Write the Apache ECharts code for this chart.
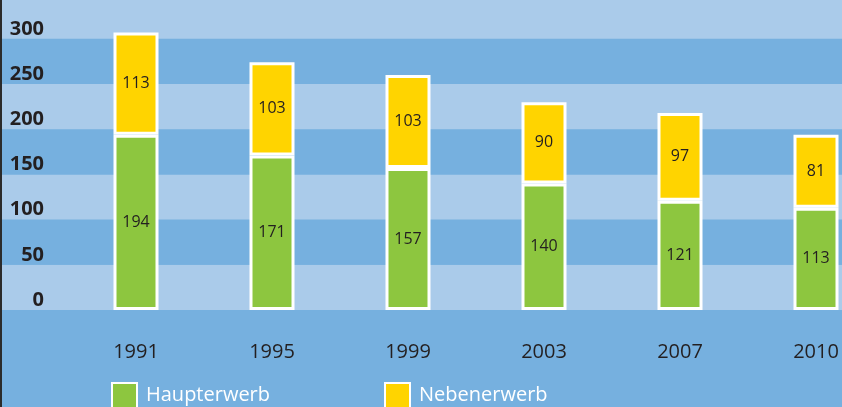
<!DOCTYPE html>
<html>
<head>
<meta charset="utf-8">
<script src="https://cdn.jsdelivr.net/npm/echarts@6/dist/echarts.min.js"></script>
<style>
  html, body { margin: 0; padding: 0; background: #76b0df; }
  #chart { width: 842px; height: 407px; }
  #edge { position: absolute; left: 0; top: 0; width: 2px; height: 407px; background: #2b2b2b; }
</style>
</head>
<body>
<div id="chart"></div>
<div id="edge"></div>
<script>
// Jahre und Werte (Betriebe)
const years = ['1991', '1995', '1999', '2003', '2007', '2010'];
const haupterwerb = [194, 171, 157, 140, 121, 113];
const nebenerwerb = [113, 103, 103, 90, 97, 81];
const yTicks = [0, 50, 100, 150, 200, 250, 300];

const lightBlue = '#aacbea';
const darkBlue = '#76b0df';
const textColor = '#231f20';
const font = '"Open Sans", "Noto Sans", sans-serif';

const chart = echarts.init(document.getElementById('chart'));

const yMax = 343;

const option = {
  backgroundColor: darkBlue,
  animation: false,
  grid: [
    // Hintergrund mit Streifen + Achsenbeschriftung
    { left: 2, right: 0, top: 0, bottom: 97, containLabel: false, outerBoundsMode: 'none' },
    // Balken (rechts ueber den Rand hinaus)
    { left: 68, right: -42, top: 0, bottom: 97, containLabel: false, outerBoundsMode: 'none' }
  ],
  xAxis: [
    { gridIndex: 0, type: 'value', min: 0, max: 1, show: false },
    {
      gridIndex: 1,
      type: 'category',
      data: years,
      axisLine: { show: false },
      axisTick: { show: false },
      axisLabel: {
        color: textColor,
        fontFamily: font,
        fontSize: 20,
        margin: 32
      }
    }
  ],
  yAxis: [
    {
      gridIndex: 0,
      type: 'value',
      min: 0,
      max: yMax,
      interval: 50,
      axisLine: { show: false },
      axisTick: { show: false },
      splitLine: { show: false },
      splitArea: { show: true, areaStyle: { color: [lightBlue, darkBlue] } },
      axisLabel: {
        showMaxLabel: false,
        margin: -42,
        align: 'right',
        verticalAlign: 'bottom',
        color: textColor,
        fontFamily: font,
        fontWeight: 'bold',
        fontSize: 20,
        formatter: v => (yTicks.indexOf(v) >= 0 ? String(v) : '')
      }
    },
    { gridIndex: 1, type: 'value', min: 0, max: yMax, interval: 50, show: false }
  ],
  legend: [
    {
      left: 111, top: 382, padding: 0,
      data: ['Haupterwerb'],
      icon: 'rect', itemWidth: 25, itemHeight: 25, itemGap: 12,
      itemStyle: { borderColor: '#ffffff', borderWidth: 2 },
      textStyle: { color: '#ffffff', fontFamily: font, fontSize: 20, padding: [26, 0, 0, 4] }
    },
    {
      left: 384, top: 382, padding: 0,
      data: ['Nebenerwerb'],
      icon: 'rect', itemWidth: 25, itemHeight: 25, itemGap: 12,
      itemStyle: { borderColor: '#ffffff', borderWidth: 2 },
      textStyle: { color: '#ffffff', fontFamily: font, fontSize: 20, padding: [26, 0, 0, 4] }
    }
  ],
  series: [
    {
      name: 'Haupterwerb',
      type: 'bar',
      stack: 'total',
      xAxisIndex: 1,
      yAxisIndex: 1,
      barWidth: 45,
      data: haupterwerb,
      itemStyle: { color: '#8dc63f', borderColor: '#ffffff', borderWidth: 3 },
      label: { show: true, position: 'inside', color: textColor, fontFamily: font, fontSize: 16 }
    },
    {
      name: 'Nebenerwerb',
      type: 'bar',
      stack: 'total',
      xAxisIndex: 1,
      yAxisIndex: 1,
      barWidth: 45,
      data: nebenerwerb,
      itemStyle: { color: '#ffd400', borderColor: '#ffffff', borderWidth: 3 },
      label: { show: true, position: 'inside', color: textColor, fontFamily: font, fontSize: 16 }
    }
  ]
};

chart.setOption(option);
</script>
</body>
</html>
